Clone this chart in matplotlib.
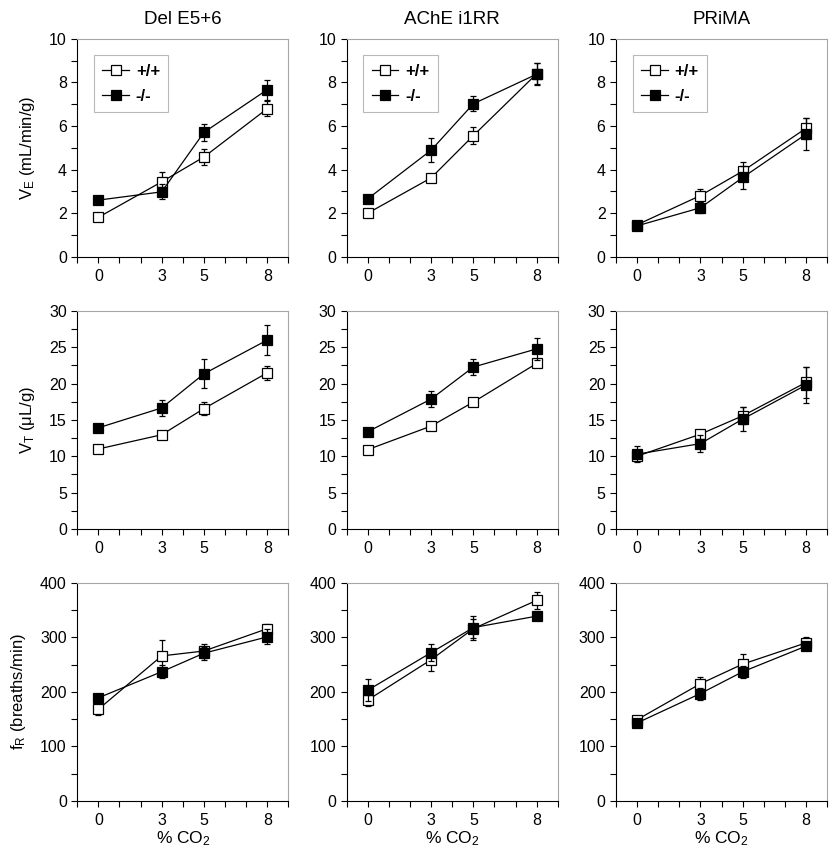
import matplotlib
matplotlib.use("Agg")
import matplotlib.pyplot as plt
from matplotlib.lines import Line2D
import numpy as np

plt.rcParams.update({
    "font.family": ["Liberation Sans", "DejaVu Sans"],
    "mathtext.fontset": "custom",
    "mathtext.rm": "Liberation Sans",
    "mathtext.it": "Liberation Sans:italic",
    "font.size": 11,
})

CO2 = [0, 3, 5, 8]
GROUPS = ["Del E5+6", "AChE i1RR", "PRiMA"]

# VE (mL/min/g)
VE_WT = [[1.81, 3.44, 4.58, 6.80], [2.00, 3.62, 5.56, 8.40], [1.47, 2.81, 3.93, 5.90]]
VE_WT_ERR = [[0.10, 0.44, 0.37, 0.35], [0.08, 0.15, 0.38, 0.48], [0.08, 0.30, 0.40, 0.49]]
VE_KO = [[2.60, 2.98, 5.71, 7.67], [2.66, 4.89, 7.02, 8.38], [1.42, 2.25, 3.64, 5.63]]
VE_KO_ERR = [[0.10, 0.34, 0.38, 0.46], [0.08, 0.54, 0.35, 0.50], [0.08, 0.25, 0.54, 0.75]]

# VT (uL/g)
VT_WT = [[10.99, 12.95, 16.55, 21.48], [10.90, 14.14, 17.45, 22.77], [10.00, 13.03, 15.56, 20.16]]
VT_WT_ERR = [[0.2, 0.3, 0.9, 0.95], [0.2, 0.3, 0.3, 0.5], [0.5, 0.3, 1.2, 2.1]]
VT_KO = [[13.90, 16.64, 21.34, 25.99], [13.36, 17.86, 22.27, 24.77], [10.28, 11.73, 15.11, 19.80]]
VT_KO_ERR = [[0.4, 1.05, 2.0, 2.0], [0.5, 1.14, 1.05, 1.55], [1.1, 1.2, 1.7, 2.5]]

# fR (breaths/min)
FR_WT = [[168, 266, 275, 316], [185, 259, 316, 368], [149, 215, 251, 290]]
FR_WT_ERR = [[10, 29, 12, 8], [11, 20, 18, 15], [5, 13, 19, 10]]
FR_KO = [[189, 237, 271, 301], [203, 272, 318, 339], [143, 197, 237, 284]]
FR_KO_ERR = [[8, 12, 12, 14], [20, 16, 22, 6], [5, 11, 11, 5]]

ROWS = [
    (VE_WT, VE_WT_ERR, VE_KO, VE_KO_ERR, 10, 2, r"V$_{\mathrm{E}}$ (mL/min/g)"),
    (VT_WT, VT_WT_ERR, VT_KO, VT_KO_ERR, 30, 5, r"V$_{\mathrm{T}}$ ($\mathrm{\mu}$L/g)"),
    (FR_WT, FR_WT_ERR, FR_KO, FR_KO_ERR, 400, 100, r"f$_{\mathrm{R}}$ (breaths/min)"),
]

MS = 6.5
LW = 0.9

fig, axes = plt.subplots(3, 3, figsize=(8.39, 8.63), dpi=100)
fig.subplots_adjust(left=0.092, right=0.986, top=0.955, bottom=0.072,
                    wspace=0.275, hspace=0.248)

handles = [
    Line2D([], [], color="black", lw=LW, marker="s", ms=MS, mfc="white", mec="black", mew=LW),
    Line2D([], [], color="black", lw=LW, marker="s", ms=MS, mfc="black", mec="black", mew=LW),
]

for i, (wt, wt_e, ko, ko_e, ymax, ystep, ylab) in enumerate(ROWS):
    for j in range(3):
        ax = axes[i][j]
        ax.errorbar(CO2, wt[j], yerr=wt_e[j], color="black", lw=LW,
                    marker="s", ms=MS, mfc="white", mec="black", mew=LW,
                    capsize=2.5, elinewidth=LW, capthick=LW, zorder=3)
        ax.errorbar(CO2, ko[j], yerr=ko_e[j], color="black", lw=LW,
                    marker="s", ms=MS, mfc="black", mec="black", mew=LW,
                    capsize=2.5, elinewidth=LW, capthick=LW, zorder=4)
        ax.set_xlim(-1, 9)
        ax.set_ylim(0, ymax)
        ax.set_xticks(range(-1, 10))
        ax.set_xticklabels([str(v) if v in CO2 else "" for v in range(-1, 10)])
        ax.set_yticks(np.arange(0, ymax + ystep / 2, ystep))
        ax.set_yticks(np.arange(ystep / 2, ymax, ystep / 2), minor=True)
        ax.tick_params(which="both", direction="out", length=4, width=0.8,
                       labelsize=11.5, colors="black")
        ax.tick_params(axis="x", pad=5)
        for s in ["top", "right"]:
            ax.spines[s].set_color("#a6a6a6")
        for s in ["left", "bottom"]:
            ax.spines[s].set_color("black")
        for s in ax.spines.values():
            s.set_linewidth(0.8)
        if i == 0:
            ax.set_title(GROUPS[j], fontsize=13.5, pad=11)
            leg = ax.legend(handles, ["+/+", "-/-"], loc="upper left",
                            bbox_to_anchor=(0.08, 0.925), borderaxespad=0,
                            fancybox=False, frameon=True, edgecolor="#a6a6a6",
                            handlelength=1.6, handletextpad=0.4, labelspacing=0.6,
                            borderpad=0.5, prop={"weight": "bold", "size": 12})
            leg.get_frame().set_linewidth(0.8)
        if i == 2:
            ax.set_xlabel(r"% CO$_{2}$", fontsize=12.5, labelpad=1)
        if j == 0:
            ax.set_ylabel(ylab, fontsize=12, labelpad=9)

fig.savefig("out.png", dpi=100)
plt.close(fig)
